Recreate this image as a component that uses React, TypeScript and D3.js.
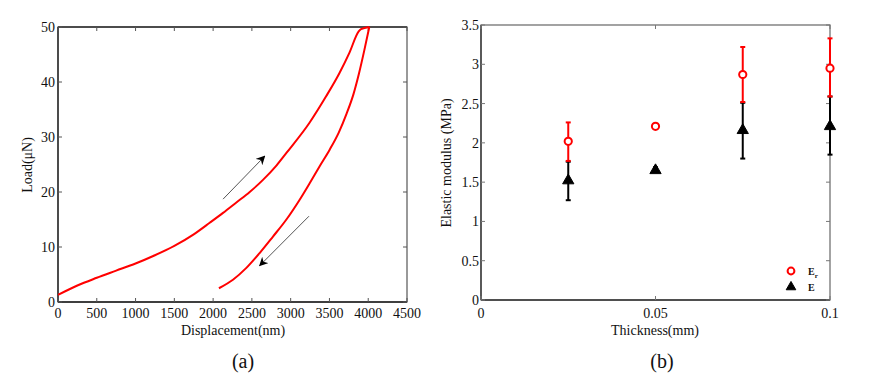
import React from "react";
import * as d3 from "d3";

// ---- Panel (a): load-displacement ----
const loadX = [0, 100, 250, 500, 750, 1000, 1250, 1500, 1750, 1956, 2128, 2300, 2472, 2643, 2816, 2945, 3243, 3457, 3628, 3757, 3877, 3907, 4014];
const loadY = [1.3, 2.0, 3.0, 4.4, 5.7, 7.0, 8.5, 10.2, 12.3, 14.4, 16.2, 18.1, 20.0, 22.2, 24.8, 27.1, 32.6, 37.4, 41.6, 45.3, 49.2, 49.6, 50];
const unloadX = [2075, 2256, 2429, 2600, 2772, 2945, 3116, 3245, 3374, 3503, 3620, 3720, 3810, 3880, 3950, 4014];
const unloadY = [2.5, 4.05, 6.2, 8.9, 11.9, 15.0, 18.6, 21.6, 24.7, 27.7, 30.8, 34.2, 37.8, 41.5, 45.8, 50];
const dispTicks = [0, 500, 1000, 1500, 2000, 2500, 3000, 3500, 4000, 4500];
const loadTicks = [0, 10, 20, 30, 40, 50];
const arrowUp = [2128, 18.7, 2665, 26.5];
const arrowDown = [3236, 15.6, 2600, 6.6];

// ---- Panel (b): elastic modulus ----
const thickness = [0.025, 0.05, 0.075, 0.1];
const erMean = [2.02, 2.21, 2.87, 2.95];
const erLow = [1.77, 2.18, 2.52, 2.59];
const erHigh = [2.26, 2.24, 3.22, 3.33];
const eMean = [1.52, 1.65, 2.16, 2.21];
const eLow = [1.27, 1.63, 1.80, 1.85];
const eHigh = [1.76, 1.69, 2.51, 2.59];
const thickTicks = [0, 0.05, 0.1];
const thickTickLabels = ["0", "0.05", "0.1"];
const modTicks = [0, 0.5, 1, 1.5, 2, 2.5, 3, 3.5];
const modTickLabels = ["0", "0.5", "1", "1.5", "2", "2.5", "3", "3.5"];

const FONT = "'Liberation Serif', 'Times New Roman', Tinos, 'DejaVu Serif', serif";

export default function App() {
  const ax = d3.scaleLinear().domain([0, 4500]).range([58, 407]);
  const ay = d3.scaleLinear().domain([0, 50]).range([302, 27]);
  const bx = d3.scaleLinear().domain([0, 0.1]).range([481, 830]);
  const by = d3.scaleLinear().domain([0, 3.5]).range([300, 25]);

  const lineA = d3
    .line<[number, number]>()
    .x((d) => ax(d[0]))
    .y((d) => ay(d[1]))
    .curve(d3.curveMonotoneX);
  const loadPts = loadX.map((x, i) => [x, loadY[i]] as [number, number]);
  const unloadPts = unloadX.map((x, i) => [x, unloadY[i]] as [number, number]);

  const tri = d3.symbol().type(d3.symbolTriangle).size(55)() as string;

  const tickLen = 4;
  const frameA = { x0: ax(0), x1: ax(4500), y0: ay(50), y1: ay(0) };
  const frameB = { x0: bx(0), x1: bx(0.1), y0: by(3.5), y1: by(0) };

  return (
    <svg width={872} height={373} fontFamily={FONT} style={{ position: "absolute", left: 0, top: 0, background: "#fff" }}>
      <defs>
        <marker id="ah" viewBox="0 0 10 10" refX="9" refY="5" markerWidth="9" markerHeight="9" orient="auto" markerUnits="userSpaceOnUse">
          <path d="M0,0 L10,5 L0,10 L3,5 Z" fill="#000" />
        </marker>
        <clipPath id="clipA">
          <rect x={frameA.x0} y={frameA.y0 - 2} width={frameA.x1 - frameA.x0 + 2} height={frameA.y1 - frameA.y0 + 2} />
        </clipPath>
      </defs>

      {/* ===== Panel (a) ===== */}
      <rect x={frameA.x0} y={frameA.y0} width={frameA.x1 - frameA.x0} height={frameA.y1 - frameA.y0} fill="none" stroke="#555" strokeWidth={1.2} />
      <line x1={frameA.x0} x2={frameA.x1} y1={frameA.y1} y2={frameA.y1} stroke="#222" strokeWidth={1.3} />
      <line x1={frameA.x0} x2={frameA.x0} y1={frameA.y0} y2={frameA.y1} stroke="#222" strokeWidth={1.3} />
      <line x1={frameA.x0} x2={frameA.x1} y1={frameA.y0} y2={frameA.y0} stroke="#333" strokeWidth={1.3} />
      {dispTicks.map((t) => (
        <g key={"ax" + t}>
          <line x1={ax(t)} x2={ax(t)} y1={frameA.y1} y2={frameA.y1 - tickLen} stroke="#555" />
          <line x1={ax(t)} x2={ax(t)} y1={frameA.y0} y2={frameA.y0 + tickLen} stroke="#555" />
          <text x={ax(t)} y={318} textAnchor="middle" fontSize={14} fill="#111">
            {t}
          </text>
        </g>
      ))}
      {loadTicks.map((t) => (
        <g key={"ay" + t}>
          <line x1={frameA.x0} x2={frameA.x0 + tickLen} y1={ay(t)} y2={ay(t)} stroke="#555" />
          <line x1={frameA.x1} x2={frameA.x1 - tickLen} y1={ay(t)} y2={ay(t)} stroke="#555" />
          <text x={55} y={ay(t) + 5} textAnchor="end" fontSize={14} fill="#111">
            {t}
          </text>
        </g>
      ))}
      <g clipPath="url(#clipA)">
        <path d={lineA(loadPts) as string} fill="none" stroke="#ff0000" strokeWidth={2} />
        <path d={lineA(unloadPts) as string} fill="none" stroke="#ff0000" strokeWidth={2} />
      </g>
      <line x1={ax(arrowUp[0])} y1={ay(arrowUp[1])} x2={ax(arrowUp[2])} y2={ay(arrowUp[3])} stroke="#555" strokeWidth={1} markerEnd="url(#ah)" />
      <line x1={ax(arrowDown[0])} y1={ay(arrowDown[1])} x2={ax(arrowDown[2])} y2={ay(arrowDown[3])} stroke="#555" strokeWidth={1} markerEnd="url(#ah)" />
      <text x={233} y={335} textAnchor="middle" fontSize={14} fill="#111">
        Displacement(nm)
      </text>
      <text transform="translate(32,165) rotate(-90)" textAnchor="middle" fontSize={14} fill="#111">
        Load(μN)
      </text>
      <text x={243} y={368} textAnchor="middle" fontSize={20} fill="#111">
        (a)
      </text>

      {/* ===== Panel (b) ===== */}
      <rect x={frameB.x0} y={frameB.y0} width={frameB.x1 - frameB.x0} height={frameB.y1 - frameB.y0} fill="none" stroke="#666" strokeWidth={1.2} />
      <line x1={frameB.x0} x2={frameB.x1} y1={frameB.y1} y2={frameB.y1} stroke="#333" strokeWidth={1.3} />
      <line x1={frameB.x0} x2={frameB.x0} y1={frameB.y0} y2={frameB.y1} stroke="#333" strokeWidth={1.3} />
      {thickTicks.map((t, i) => (
        <g key={"bx" + t}>
          <line x1={bx(t)} x2={bx(t)} y1={frameB.y1} y2={frameB.y1 - tickLen} stroke="#777" />
          <line x1={bx(t)} x2={bx(t)} y1={frameB.y0} y2={frameB.y0 + tickLen} stroke="#777" />
          <text x={bx(t)} y={318} textAnchor="middle" fontSize={14} fill="#111">
            {thickTickLabels[i]}
          </text>
        </g>
      ))}
      {modTicks.map((t, i) => (
        <g key={"by" + t}>
          <line x1={frameB.x0} x2={frameB.x0 + tickLen} y1={by(t)} y2={by(t)} stroke="#777" />
          <line x1={frameB.x1} x2={frameB.x1 - tickLen} y1={by(t)} y2={by(t)} stroke="#777" />
          <text x={479} y={by(t) + 5} textAnchor="end" fontSize={14} fill="#111">
            {modTickLabels[i]}
          </text>
        </g>
      ))}
      {thickness.map((t, i) => (
        <g key={"e" + i}>
          <line x1={bx(t)} x2={bx(t)} y1={by(eLow[i])} y2={by(eHigh[i])} stroke="#000" strokeWidth={2} />
          <line x1={bx(t) - 2.5} x2={bx(t) + 2.5} y1={by(eLow[i])} y2={by(eLow[i])} stroke="#000" strokeWidth={2} />
          <line x1={bx(t) - 2.5} x2={bx(t) + 2.5} y1={by(eHigh[i])} y2={by(eHigh[i])} stroke="#000" strokeWidth={2} />
          <path d={tri} transform={`translate(${bx(t)},${by(eMean[i])})`} fill="#000" stroke="#000" strokeWidth={1} />
        </g>
      ))}
      {thickness.map((t, i) => (
        <g key={"er" + i}>
          <line x1={bx(t)} x2={bx(t)} y1={by(erLow[i])} y2={by(erHigh[i])} stroke="#ff0000" strokeWidth={2} />
          <line x1={bx(t) - 2.5} x2={bx(t) + 2.5} y1={by(erLow[i])} y2={by(erLow[i])} stroke="#ff0000" strokeWidth={2} />
          <line x1={bx(t) - 2.5} x2={bx(t) + 2.5} y1={by(erHigh[i])} y2={by(erHigh[i])} stroke="#ff0000" strokeWidth={2} />
          <circle cx={bx(t)} cy={by(erMean[i])} r={3.6} fill="#fff" stroke="#ff0000" strokeWidth={2} />
        </g>
      ))}
      <circle cx={791} cy={271} r={3.4} fill="#fff" stroke="#ff0000" strokeWidth={2} />
      <text x={808} y={275} fontSize={10} fontWeight="bold" fill="#111">
        E<tspan fontSize={7} dy={3}>r</tspan>
      </text>
      <path d={d3.symbol().type(d3.symbolTriangle).size(40)() as string} transform="translate(791,287)" fill="#000" stroke="#000" />
      <text x={808} y={291} fontSize={10} fontWeight="bold" fill="#111">
        E
      </text>
      <text x={655} y={335} textAnchor="middle" fontSize={14} fill="#111">
        Thickness(mm)
      </text>
      <text transform="translate(451,163) rotate(-90)" textAnchor="middle" fontSize={14} fill="#111">
        Elastic modulus (MPa)
      </text>
      <text x={662} y={368} textAnchor="middle" fontSize={20} fill="#111">
        (b)
      </text>
    </svg>
  );
}
